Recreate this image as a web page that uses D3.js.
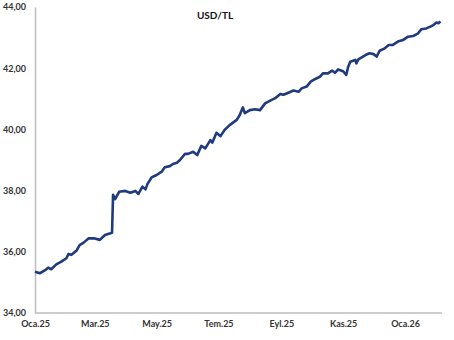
<!DOCTYPE html>
<html>
<head>
<meta charset="utf-8">
<script src="https://cdn.jsdelivr.net/npm/d3@7"></script>
<style>
  body { margin: 0; background: #fff; }
  svg text { font-family: Lato, "Liberation Sans", sans-serif; }
</style>
</head>
<body>
<div id="chart"></div>
<script>
// USD/TL kuru, okunan degerler
var dates = ["2025-01-01","2025-01-06","2025-01-11","2025-01-14","2025-01-17","2025-01-22","2025-01-27",
  "2025-02-01","2025-02-03","2025-02-06","2025-02-11","2025-02-14","2025-02-18","2025-02-23","2025-02-28",
  "2025-03-06","2025-03-11","2025-03-18","2025-03-19","2025-03-21","2025-03-25","2025-03-31",
  "2025-04-05","2025-04-10","2025-04-13","2025-04-17","2025-04-20","2025-04-22","2025-04-26",
  "2025-05-01","2025-05-06","2025-05-09","2025-05-14","2025-05-17","2025-05-21","2025-05-24","2025-05-29",
  "2025-06-01","2025-06-06","2025-06-10","2025-06-14","2025-06-18","2025-06-23","2025-06-25","2025-06-29",
  "2025-07-03","2025-07-07","2025-07-12","2025-07-19","2025-07-22","2025-07-25","2025-07-27",
  "2025-08-01","2025-08-06","2025-08-11","2025-08-16","2025-08-21","2025-08-26","2025-08-31",
  "2025-09-03","2025-09-08","2025-09-13","2025-09-18","2025-09-21","2025-09-26","2025-09-30",
  "2025-10-04","2025-10-09","2025-10-12","2025-10-17","2025-10-21","2025-10-24","2025-10-27",
  "2025-11-01","2025-11-04","2025-11-06","2025-11-08","2025-11-13","2025-11-14","2025-11-16","2025-11-23","2025-11-27",
  "2025-12-01","2025-12-04","2025-12-07","2025-12-12","2025-12-16","2025-12-20","2025-12-25","2025-12-30",
  "2026-01-04","2026-01-09","2026-01-14","2026-01-17","2026-01-22","2026-01-26","2026-01-29",
  "2026-02-01","2026-02-03","2026-02-05"];
var usdtl = [35.35,35.30,35.40,35.48,35.43,35.59,35.68,
  35.79,35.93,35.90,36.04,36.22,36.30,36.44,36.44,
  36.39,36.55,36.62,37.86,37.72,37.96,37.99,
  37.93,37.99,37.89,38.13,38.04,38.22,38.43,
  38.51,38.62,38.76,38.80,38.87,38.91,39.00,39.20,
  39.20,39.27,39.16,39.46,39.38,39.65,39.57,39.89,
  39.78,39.98,40.14,40.31,40.47,40.72,40.53,
  40.63,40.66,40.63,40.85,40.94,41.02,41.16,
  41.13,41.20,41.27,41.23,41.34,41.40,41.56,
  41.64,41.72,41.83,41.83,41.92,41.85,41.96,
  41.90,41.78,42.05,42.21,42.27,42.16,42.29,42.43,42.49,
  42.46,42.38,42.57,42.65,42.76,42.76,42.87,42.92,
  43.03,43.05,43.14,43.27,43.30,43.36,43.41,
  43.49,43.47,43.53];
var yTicks = [34, 36, 38, 40, 42, 44];
var xTickDates = ["2025-01-01","2025-03-01","2025-05-01","2025-07-01","2025-09-01","2025-11-01","2026-01-01"];
var xTickLabels = ["Oca.25","Mar.25","May.25","Tem.25","Eyl.25","Kas.25","Oca.26"];
var title = "USD/TL";

var width = 454, height = 340;
var margin = {top: 7, right: 12, bottom: 27, left: 35};
var parse = d3.timeParse("%Y-%m-%d");

var data = dates.map(function (d, i) { return {date: parse(d), value: usdtl[i]}; });

var svg = d3.select("#chart").append("svg")
  .attr("width", width)
  .attr("height", height);

var x = d3.scaleTime()
  .domain([parse("2025-01-01"), parse("2026-01-01")])
  .range([margin.left, 405]);

var y = d3.scaleLinear()
  .domain([34, 44])
  .range([height - margin.bottom, margin.top]);

var fmt = function (v) { return d3.format(".2f")(v).replace(".", ","); };

// y axis
var yAxis = svg.append("g")
  .attr("transform", "translate(" + margin.left + ",0)")
  .call(d3.axisLeft(y).tickValues(yTicks).tickSize(0).tickPadding(9).tickFormat(fmt));
yAxis.select(".domain").attr("stroke", "#bdbdbd").attr("stroke-width", 1.5);
yAxis.selectAll("text")
  .attr("font-size", 9).attr("font-weight", "bold").attr("fill", "#333");

// x axis
var xAxis = svg.append("g")
  .attr("transform", "translate(0," + (height - margin.bottom) + ")")
  .call(d3.axisBottom(x).tickValues(xTickDates.map(parse)).tickSize(0).tickPadding(8)
    .tickFormat(function (d, i) { return xTickLabels[i]; }));
xAxis.select(".domain")
  .attr("d", "M" + margin.left + ",0H" + (width - margin.right))
  .attr("stroke", "#bdbdbd").attr("stroke-width", 1.5);
xAxis.selectAll("text")
  .attr("font-size", 9).attr("font-weight", "bold").attr("fill", "#333");

// line
var line = d3.line()
  .x(function (d) { return x(d.date); })
  .y(function (d) { return y(d.value); });

svg.append("path")
  .datum(data)
  .attr("fill", "none")
  .attr("stroke", "#1f3a7e")
  .attr("stroke-width", 2.6)
  .attr("stroke-linejoin", "round")
  .attr("d", line);

svg.append("text")
  .attr("x", 215).attr("y", 19)
  .attr("text-anchor", "middle")
  .attr("font-size", 10).attr("font-weight", "bold").attr("fill", "#111")
  .text(title);
</script>
</body>
</html>
